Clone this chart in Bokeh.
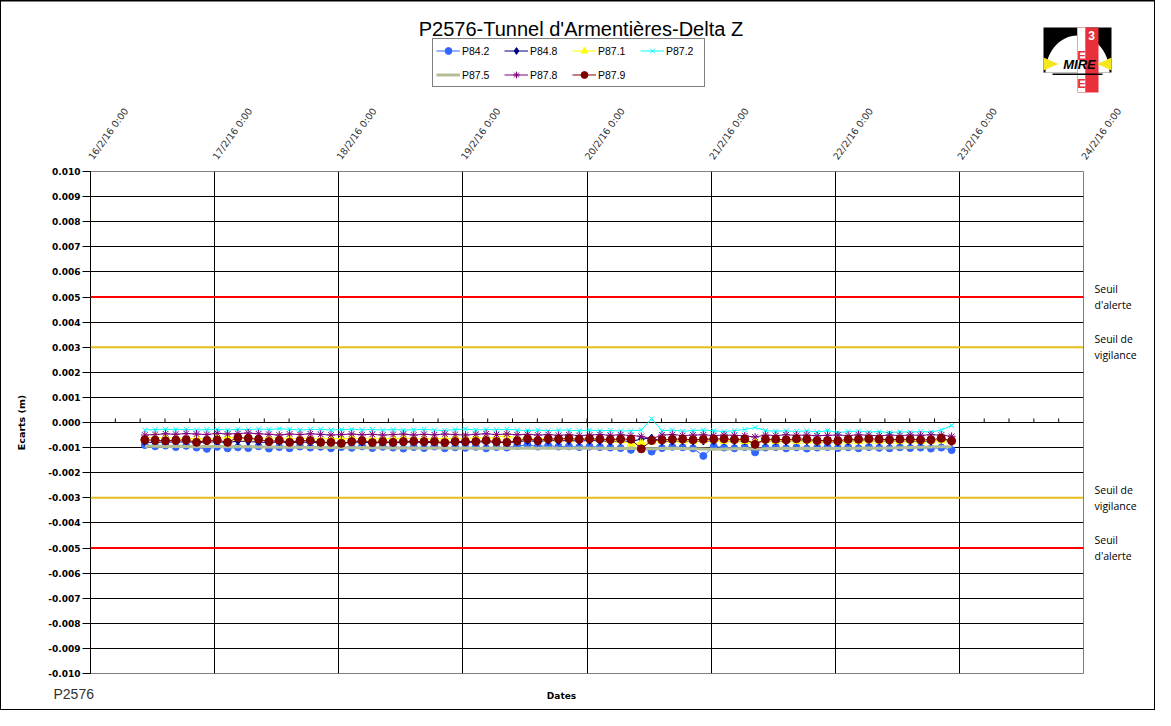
import math
import pandas as pd
from bokeh.plotting import figure
from bokeh.layouts import column, row
from bokeh.models import (ColumnDataSource, Range1d, FixedTicker, LinearAxis, Grid, Span,
                          Legend, LegendItem, PrintfTickFormatter)
from bokeh.core.properties import value
from bokeh.embed import file_html
from bokeh.resources import INLINE

# ---------------- data ----------------
TITLE = "P2576-Tunnel  d'Armentières-Delta  Z"
series_names = ["P84.2", "P84.8", "P87.1", "P87.2", "P87.5", "P87.8", "P87.9"]
start_time = "2016-02-16 10:30"
n_points = 79
times = pd.date_range(start_time, periods=n_points, freq="2h")

# values in mm
p84_2 = [-0.90, -0.95, -0.92, -0.98, -0.93, -1.00, -1.05, -0.97, -1.03, -0.99, -1.02, -0.95,
         -1.04, -0.98, -1.03, -0.96, -1.00, -0.97, -1.03, -0.98, -1.01, -0.95, -1.02, -0.97,
         -1.00, -1.04, -0.98, -1.02, -0.96, -1.03, -0.99, -1.01, -0.97, -1.03, -0.98, -1.00,
         -0.94, -0.89, -0.96, -0.92, -0.96, -0.95, -0.98, -0.96, -0.98, -1.00, -1.02, -1.09,
         -1.00, -1.16, -1.02, -0.97, -0.99, -1.03, -1.33, -0.95, -1.00, -1.03, -0.98, -1.19,
         -1.00, -0.98, -1.03, -0.99, -1.04, -1.00, -0.98, -1.02, -0.99, -1.03, -0.98, -1.01,
         -1.03, -0.99, -1.02, -1.00, -1.04, -1.00, -1.10]
p84_8 = [-0.78, -0.80, -0.77, -0.79, -0.76, -0.80, -0.78, -0.77, -0.80, -0.74, -0.76, -0.78,
         -0.80, -0.77, -0.81, -0.78, -0.79, -0.81, -0.80, -0.83, -0.79, -0.78, -0.81, -0.79,
         -0.81, -0.79, -0.78, -0.80, -0.79, -0.82, -0.79, -0.80, -0.78, -0.77, -0.79, -0.80,
         -0.77, -0.72, -0.76, -0.72, -0.73, -0.72, -0.74, -0.72, -0.73, -0.75, -0.73, -0.76,
         -0.66, -0.62, -0.75, -0.74, -0.73, -0.75, -0.74, -0.73, -0.72, -0.74, -0.73, -0.80,
         -0.74, -0.73, -0.75, -0.72, -0.74, -0.77, -0.77, -0.78, -0.74, -0.73, -0.72, -0.74,
         -0.75, -0.73, -0.74, -0.75, -0.76, -0.68, -0.78]
p87_1 = [-0.62, -0.58, -0.63, -0.60, -0.65, -0.62, -0.66, -0.63, -0.60, -0.62, -0.64, -0.61,
         -0.63, -0.60, -0.65, -0.62, -0.64, -0.66, -0.63, -0.65, -0.62, -0.64, -0.66, -0.63,
         -0.65, -0.62, -0.64, -0.66, -0.63, -0.65, -0.62, -0.64, -0.60, -0.63, -0.58, -0.52,
         -0.62, -0.64, -0.62, -0.66, -0.64, -0.67, -0.65, -0.68, -0.66, -0.70, -0.72, -0.85,
         -0.80, -0.76, -0.72, -0.70, -0.72, -0.74, -0.72, -0.70, -0.73, -0.71, -0.74, -0.76,
         -0.72, -0.74, -0.71, -0.75, -0.73, -0.76, -0.74, -0.76, -0.73, -0.75, -0.72, -0.74,
         -0.73, -0.75, -0.72, -0.74, -0.73, -0.72, -0.75]
p87_2 = [-0.30, -0.28, -0.27, -0.28, -0.27, -0.30, -0.28, -0.27, -0.30, -0.27, -0.28, -0.26,
         -0.28, -0.25, -0.27, -0.30, -0.28, -0.27, -0.30, -0.28, -0.27, -0.29, -0.28, -0.30,
         -0.28, -0.30, -0.29, -0.27, -0.30, -0.32, -0.28, -0.26, -0.30, -0.28, -0.29, -0.27,
         -0.30, -0.32, -0.30, -0.33, -0.30, -0.31, -0.33, -0.30, -0.33, -0.32, -0.34, -0.33,
         -0.30, 0.15, -0.33, -0.30, -0.35, -0.32, -0.30, -0.33, -0.36, -0.32, -0.28, -0.20,
         -0.32, -0.35, -0.33, -0.36, -0.33, -0.38, -0.32, -0.40, -0.36, -0.34, -0.38, -0.36,
         -0.40, -0.37, -0.38, -0.36, -0.38, -0.30, -0.12]
p87_5 = [-0.95, -0.95, -0.96, -0.95, -0.96, -0.97, -0.96, -0.96, -0.97, -0.96, -0.97, -0.98,
         -0.98, -0.99, -0.98, -0.99, -1.00, -1.00, -0.99, -1.00, -1.01, -1.00, -1.01, -1.01,
         -1.02, -1.01, -1.02, -1.03, -1.02, -1.02, -1.03, -1.02, -1.03, -1.03, -1.02, -1.03,
         -1.03, -1.02, -1.03, -1.02, -1.03, -1.03, -1.02, -1.03, -1.03, -1.04, -1.03, -1.04,
         -1.04, -1.05, -1.04, -1.03, -1.04, -1.05, -1.06, -1.07, -1.06, -1.05, -1.04, -1.06,
         -1.05, -1.04, -1.03, -1.04, -1.03, -1.04, -1.03, -1.04, -1.03, -1.03, -1.02, -1.03,
         -1.02, -1.01, -1.00, -0.99, -0.98, -0.97, -0.97]
p87_8 = [-0.50, -0.48, -0.45, -0.47, -0.44, -0.46, -0.48, -0.43, -0.46, -0.44, -0.42, -0.45,
         -0.47, -0.50, -0.46, -0.48, -0.45, -0.47, -0.50, -0.48, -0.46, -0.49, -0.47, -0.50,
         -0.48, -0.46, -0.50, -0.47, -0.49, -0.46, -0.48, -0.50, -0.47, -0.45, -0.48, -0.46,
         -0.49, -0.47, -0.50, -0.48, -0.51, -0.49, -0.52, -0.50, -0.48, -0.51, -0.49, -0.52,
         -0.55, -0.65, -0.50, -0.48, -0.52, -0.50, -0.49, -0.52, -0.50, -0.51, -0.53, -0.58,
         -0.50, -0.52, -0.49, -0.51, -0.50, -0.53, -0.51, -0.50, -0.52, -0.49, -0.51, -0.53,
         -0.50, -0.52, -0.50, -0.51, -0.49, -0.50, -0.55]
p87_9 = [-0.69, -0.71, -0.73, -0.71, -0.69, -0.79, -0.72, -0.70, -0.79, -0.60, -0.63, -0.67,
         -0.76, -0.71, -0.79, -0.73, -0.72, -0.79, -0.79, -0.83, -0.76, -0.73, -0.80, -0.76,
         -0.79, -0.76, -0.75, -0.76, -0.76, -0.80, -0.76, -0.76, -0.76, -0.72, -0.76, -0.79,
         -0.73, -0.65, -0.72, -0.65, -0.66, -0.64, -0.67, -0.65, -0.66, -0.68, -0.66, -0.67,
         -1.05, -0.72, -0.69, -0.67, -0.66, -0.69, -0.67, -0.66, -0.65, -0.68, -0.66, -0.87,
         -0.67, -0.67, -0.69, -0.65, -0.67, -0.72, -0.72, -0.73, -0.67, -0.67, -0.65, -0.67,
         -0.69, -0.67, -0.67, -0.69, -0.69, -0.63, -0.73]
series_values = [p84_2, p84_8, p87_1, p87_2, p87_5, p87_8, p87_9]

alert_levels = [0.005, -0.005]
vigilance_levels = [0.003, -0.003]
threshold_labels = {0.005: "Seuil\nd'alerte", 0.003: "Seuil de\nvigilance",
                    -0.003: "Seuil de\nvigilance", -0.005: "Seuil\nd'alerte"}
day_ticks = pd.date_range("2016-02-16", "2016-02-24", freq="D")
day_labels = ["16/2/16 0:00", "17/2/16 0:00", "18/2/16 0:00", "19/2/16 0:00", "20/2/16 0:00",
              "21/2/16 0:00", "22/2/16 0:00", "23/2/16 0:00", "24/2/16 0:00"]
y_ticks = [k / 1000 for k in range(-10, 11)]
y_title = "Ecarts (m)"
x_title = "Dates"
footer = "P2576"

# ---------------- styles ----------------
styles = {
    "P84.2": dict(color="#3366FF", marker="circle", size=7, lw=1),
    "P84.8": dict(color="#000080", marker="diamond", size=8, lw=1),
    "P87.1": dict(color="#FFFF00", marker="triangle", size=8, lw=1),
    "P87.2": dict(color="#00FFFF", marker="x", size=7, lw=1),
    "P87.5": dict(color="#B3BE96", marker=None, size=0, lw=3),
    "P87.8": dict(color="#800080", marker="asterisk", size=8, lw=1),
    "P87.9": dict(color="#800000", marker="circle", size=8, lw=1),
}


def ms(t):
    return pd.Timestamp(t).value / 1e6


def add_series(fig, src, name):
    st = styles[name]
    rs = [fig.line("x", "y", source=src, line_color=st["color"], line_width=st["lw"])]
    if st["marker"]:
        if st["marker"] in ("x", "asterisk"):
            rs.append(fig.scatter("x", "y", source=src, marker=st["marker"], size=st["size"],
                                  line_color=st["color"], line_width=1))
        else:
            rs.append(fig.scatter("x", "y", source=src, marker=st["marker"], size=st["size"],
                                  fill_color=st["color"], line_color=st["color"], line_width=1))
    return rs


def no_grid(fig):
    fig.center = [c for c in fig.center if not isinstance(c, Grid)]


W = 1155
HT = 95            # header strip (title, legend, logo)
HB = 31            # footer strip
HM = 710 - HT - HB  # main chart
FL, FR = 90, 1083   # frame left/right (page px)
FTOP, FBOT = 171, 673

# ---------------- main chart ----------------
p = figure(width=W, height=HM, output_backend="svg", toolbar_location=None,
           x_range=Range1d(ms(day_ticks[0]), ms(day_ticks[-1])),
           y_range=Range1d(-0.010, 0.010),
           x_axis_location=None, y_axis_location="left",
           min_border_left=FL, min_border_right=W - FR,
           min_border_top=FTOP - HT, min_border_bottom=HT + HM - FBOT,
           background_fill_color="white", border_fill_color=None)
p.outline_line_color = "#808080"
p.outline_line_width = 1
no_grid(p)

p.add_layout(Grid(dimension=0, ticker=FixedTicker(ticks=[ms(d) for d in day_ticks[1:-1]]),
                  grid_line_color="black", grid_line_width=1))
p.add_layout(Grid(dimension=1, ticker=FixedTicker(ticks=y_ticks[1:-1]),
                  grid_line_color="black", grid_line_width=1))

ya = p.yaxis[0]
ya.ticker = FixedTicker(ticks=y_ticks)
ya.formatter = PrintfTickFormatter(format="%.3f")
ya.major_tick_out = 8
ya.major_tick_in = 0
ya.minor_tick_line_color = None
ya.axis_line_color = "black"
ya.major_tick_line_color = "black"
ya.major_label_text_font = "DejaVu Sans"
ya.major_label_text_font_style = "bold"
ya.major_label_text_font_size = "9px"
ya.major_label_text_color = "black"
ya.major_label_standoff = 2
ya.axis_label = y_title
ya.axis_label_text_font = "DejaVu Sans"
ya.axis_label_text_font_style = "bold"
ya.axis_label_text_font_size = "9.5px"
ya.axis_label_text_color = "black"
ya.axis_label_standoff = 18

xa = LinearAxis(ticker=FixedTicker(ticks=[ms(d) for d in day_ticks]),
                major_label_overrides={ms(d): lab for d, lab in zip(day_ticks, day_labels)},
                major_label_orientation=0.95,
                axis_line_color=None, major_tick_line_color=None, minor_tick_line_color=None,
                major_tick_out=0, major_tick_in=0, major_label_standoff=13,
                major_label_text_font="DejaVu Sans", major_label_text_font_size="9.5px",
                major_label_text_color="#333333")
p.add_layout(xa, "above")

ra = LinearAxis(ticker=FixedTicker(ticks=list(threshold_labels.keys())),
                major_label_overrides=threshold_labels,
                axis_line_color=None, major_tick_line_color=None, minor_tick_line_color=None,
                major_tick_out=0, major_tick_in=0, major_label_standoff=11,
                major_label_text_font="Open Sans", major_label_text_font_size="10.5px",
                major_label_text_line_height=1.15, major_label_text_color="black")
p.add_layout(ra, "right")

# small ticks on the zero line (date axis crossing), every 0.2 day
tick_step = 0.2 * 86400000
zero_ticks = [ms(day_ticks[0]) + k * tick_step for k in range(1, 40)]
p.segment(x0=zero_ticks, y0=[0] * len(zero_ticks), x1=zero_ticks, y1=[0.00016] * len(zero_ticks),
          line_color="black", line_width=1)

for lv in alert_levels:
    p.add_layout(Span(location=lv, dimension="width", line_color="#FF0000", line_width=2))
for lv in vigilance_levels:
    p.add_layout(Span(location=lv, dimension="width", line_color="#E6BE1E", line_width=2))

for name, vals in zip(series_names, series_values):
    src = ColumnDataSource(dict(x=times, y=[v / 1000 for v in vals]))
    add_series(p, src, name)

# ---------------- header: title, legend, logo (page pixel coords) ----------------
ph = figure(width=W, height=HT, output_backend="svg", toolbar_location=None,
            x_range=Range1d(0, W), y_range=Range1d(HT, 0),
            x_axis_location=None, y_axis_location=None, min_border=0,
            background_fill_color=None, border_fill_color=None)
ph.outline_line_color = None
no_grid(ph)

# top edge of the chart border
ph.segment(x0=[0], y0=[0.5], x1=[W], y1=[0.5], line_color="black", line_width=1)

ph.text(x=[586], y=[28], text=[TITLE], text_font=value("Liberation Sans"),
        text_font_size="20px", text_align="center", text_baseline="alphabetic", text_color="black")

offscreen = ColumnDataSource(dict(x=[-1000], y=[-1000]))
items = [LegendItem(label=name, renderers=add_series(ph, offscreen, name)) for name in series_names]
legend = Legend(items=items, location=(432, HT - 87), orientation="horizontal", ncols=4,
                border_line_color="black", border_line_width=1,
                background_fill_color="white", background_fill_alpha=1,
                label_text_font="Liberation Sans", label_text_font_size="10.5px",
                label_text_color="black",
                glyph_width=24, glyph_height=17, label_height=17, label_width=35,
                label_standoff=2, spacing=7, padding=3, margin=0)
ph.add_layout(legend, "center")

# logo
ph.quad(left=[1043], right=[1111], top=[27], bottom=[72], fill_color="black", line_color=None)
dome_x = [1077 + 32 * math.cos(math.pi * k / 30) for k in range(31)]
dome_y = [72 - 37 * math.sin(math.pi * k / 30) for k in range(31)]
ph.patch(dome_x, dome_y, fill_color="white", line_color=None)
ph.quad(left=[1077], right=[1085], top=[27], bottom=[92], fill_color="white", line_color="#F4A0A0")
ph.quad(left=[1085], right=[1098], top=[27], bottom=[92], fill_color="#E8303A", line_color=None)
ph.patch([1043, 1058, 1043], [57, 63.5, 70], fill_color="#F5E61E", line_color=None)
ph.patch([1111, 1097, 1111], [57, 63.5, 70], fill_color="#F5E61E", line_color=None)
ph.quad(left=[1052], right=[1102], top=[73], bottom=[74.5], fill_color="black", line_color=None)
ph.text(x=[1081, 1081], y=[55, 83], text=["E", "E"], text_font=value("Liberation Sans"),
        text_font_size="13px", text_font_style="bold", text_color="#E8303A",
        text_align="center", text_baseline="middle")
ph.text(x=[1091], y=[35], text=["3"], text_font=value("Liberation Sans"),
        text_font_size="12px", text_font_style="bold", text_color="white",
        text_align="center", text_baseline="middle")
ph.text(x=[1079], y=[64], text=["MIRE"], text_font=value("Liberation Sans"),
        text_font_size="13px", text_font_style="bold italic", text_color="black",
        text_align="center", text_baseline="middle")

# ---------------- footer ----------------
y0 = HT + HM
pb = figure(width=W, height=HB, output_backend="svg", toolbar_location=None,
            x_range=Range1d(0, W), y_range=Range1d(y0 + HB, y0),
            x_axis_location=None, y_axis_location=None, min_border=0,
            background_fill_color=None, border_fill_color=None)
pb.outline_line_color = None
no_grid(pb)
pb.segment(x0=[0], y0=[y0 + HB - 0.5], x1=[W], y1=[y0 + HB - 0.5], line_color="black", line_width=1)
pb.text(x=[53], y=[693], text=[footer], text_font=value("Liberation Sans"), text_font_size="14px",
        text_color="#333333", text_align="left", text_baseline="middle")
pb.text(x=[561], y=[695], text=[x_title], text_font=value("DejaVu Sans"), text_font_size="9px",
        text_font_style="bold", text_color="black", text_align="center", text_baseline="middle")

layout = column(row(ph), p, row(pb), spacing=0,
                styles={"background-color": "white", "box-shadow": "inset 0 0 0 1px black"})

open("out.html", "w").write(file_html(layout, INLINE))
